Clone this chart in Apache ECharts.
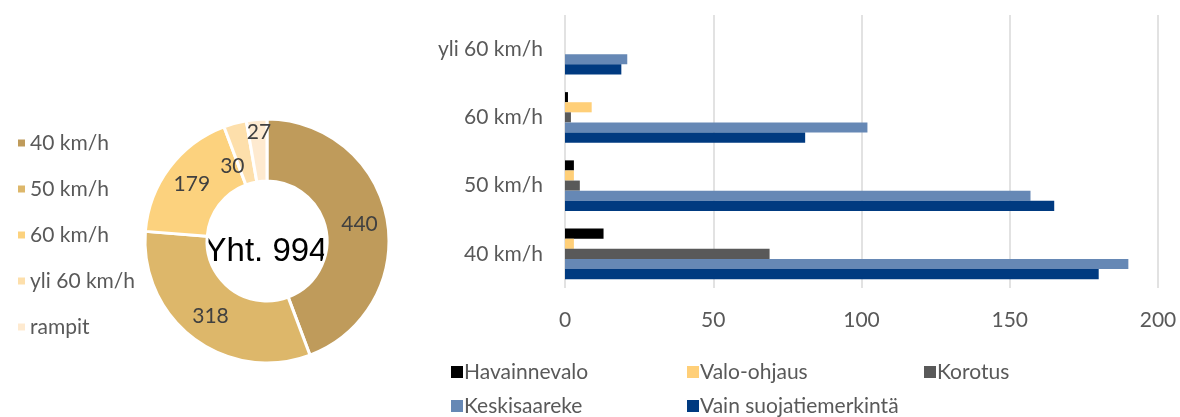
<!DOCTYPE html>
<html>
<head>
<meta charset="utf-8">
<script src="https://cdn.jsdelivr.net/npm/echarts@6/dist/echarts.min.js"></script>
<style>
  html, body { margin: 0; padding: 0; background: #fff; }
  #chart { width: 1180px; height: 417px; }
</style>
</head>
<body>
<div id="chart"></div>
<script>
// Nopeusrajoitukset (donitsi)
const speedNames = ['40 km/h', '50 km/h', '60 km/h', 'yli 60 km/h', 'rampit']
const speedCounts = [440, 318, 179, 30, 27]
const speedColors = ['#BF9B5B', '#DDB76A', '#FCD27E', '#FDDFAB', '#FEEAD0']

// Palkit
const barCategories = ['40 km/h', '50 km/h', '60 km/h', 'yli 60 km/h']
const barSeriesNames = ['Havainnevalo', 'Valo-ohjaus', 'Korotus', 'Keskisaareke', 'Vain suojatiemerkintä']
const havainnevalo = [13, 3, 1, 0]
const valoOhjaus = [3, 3, 9, 0]
const korotus = [69, 5, 2, 0]
const keskisaareke = [190, 157, 102, 21]
const vainSuojatie = [180, 165, 81, 19]
const barColors = ['#000000', '#FFCF78', '#595959', '#6688B5', '#003A80']
const xTicks = [0, 50, 100, 150, 200]

const total = speedCounts.reduce((a, b) => a + b, 0)
const barValues = [havainnevalo, valoOhjaus, korotus, keskisaareke, vainSuojatie]

const chart = echarts.init(document.getElementById('chart'))

const textFont = 'Lato, "Open Sans", sans-serif'
const fontSize = 21

// alalegendan sijainnit
const legendPos = [
  { left: 446, top: 356 },
  { left: 682, top: 356 },
  { left: 919, top: 356 },
  { left: 446, top: 390 },
  { left: 682, top: 390 }
]

// pienten siivujen nimiöiden siirto (Excelin tapaan)
const labelOffsets = [null, null, null, [-10, 16], [0, -15]]

chart.setOption({
  animation: false,
  color: barColors,
  graphic: [{
    type: 'text',
    x: 266,
    y: 252,
    style: {
      text: 'Yht. ' + total,
      font: '33px "Liberation Sans", Arial, sans-serif',
      fill: '#000',
      align: 'center',
      verticalAlign: 'middle'
    }
  }],
  legend: [
    {
      data: speedNames,
      orient: 'vertical',
      left: 11,
      top: 127,
      itemWidth: 9,
      itemHeight: 9,
      itemGap: 24,
      icon: 'rect',
      textStyle: { fontFamily: textFont, fontSize, lineHeight: 22, color: '#595959', padding: [0, 0, 0, -1] }
    },
    ...barSeriesNames.map((name, i) => ({
      data: [name],
      left: legendPos[i].left,
      top: legendPos[i].top,
      itemWidth: 12,
      itemHeight: 12,
      icon: 'rect',
      textStyle: { fontFamily: textFont, fontSize, lineHeight: 22, color: '#595959', padding: [0, 0, 0, -4] }
    }))
  ],
  grid: {
    left: 565,
    right: 22,
    top: 15,
    bottom: 129,
    containLabel: false
  },
  xAxis: {
    type: 'value',
    min: xTicks[0],
    max: xTicks[xTicks.length - 1],
    interval: 50,
    axisLine: { show: false },
    axisTick: { show: false },
    axisLabel: { fontFamily: textFont, fontSize, color: '#595959', margin: 22 },
    splitLine: { lineStyle: { color: '#D9D9D9', width: 1.5 } }
  },
  yAxis: {
    type: 'category',
    data: barCategories,
    axisLine: { show: false },
    axisTick: { show: false },
    axisLabel: { fontFamily: textFont, fontSize, color: '#595959', margin: 22 }
  },
  series: [
    {
      name: 'Nopeus',
      type: 'pie',
      center: [267, 241],
      radius: [60, 122],
      startAngle: 90,
      clockwise: true,
      avoidLabelOverlap: false,
      minShowLabelAngle: 0,
      itemStyle: { borderColor: '#fff', borderWidth: 3 },
      label: {
        show: true,
        position: 'inside',
        formatter: '{c}',
        fontFamily: textFont,
        fontSize,
        color: '#404040'
      },
      labelLine: { show: false },
      labelLayout: { hideOverlap: false },
      data: speedNames.map((name, i) => ({
        name,
        value: speedCounts[i],
        itemStyle: { color: speedColors[i] },
        label: labelOffsets[i] ? { offset: labelOffsets[i] } : {}
      }))
    },
    ...barSeriesNames.map((name, i) => ({
      name,
      type: 'bar',
      barGap: '0%',
      barCategoryGap: '26%',
      itemStyle: { color: barColors[i] },
      data: barValues[i]
    }))
  ]
})
</script>
</body>
</html>
